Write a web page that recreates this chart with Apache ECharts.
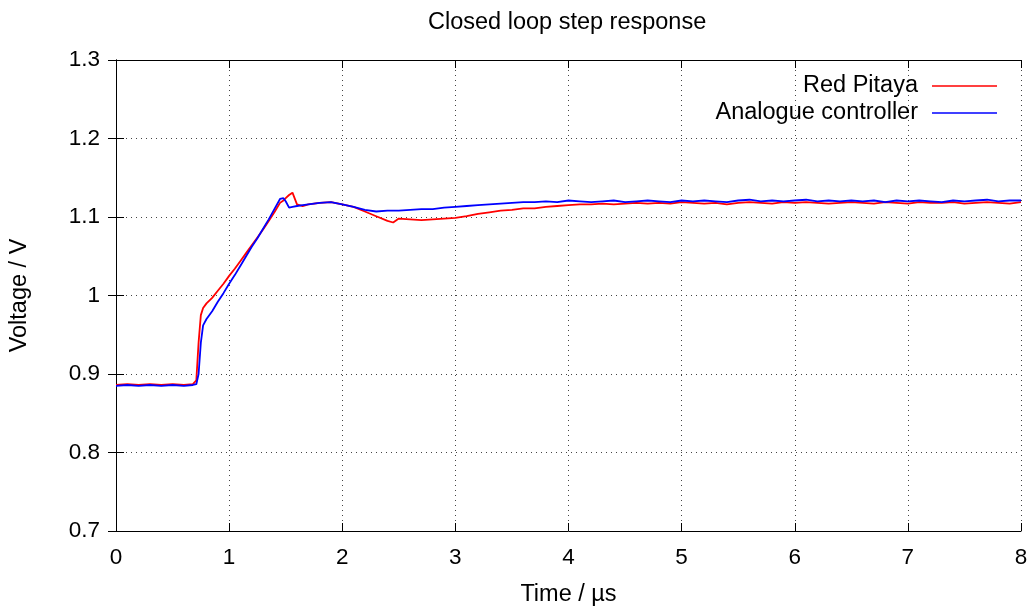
<!DOCTYPE html>
<html>
<head>
<meta charset="utf-8">
<script src="https://cdn.jsdelivr.net/npm/echarts@6/dist/echarts.min.js"></script>
<style>
    html, body { margin: 0; padding: 0; background: #fff; }
    #chart { width: 1032px; height: 612px; }
</style>
</head>
<body>
<div id="chart"></div>
<script>
    // time in microseconds
    const time = [
        0, 0.1, 0.2, 0.3, 0.4, 0.5, 0.6, 0.68,
        0.71, 0.73, 0.75, 0.77, 0.8, 0.85, 0.9, 0.95, 1.0, 1.05, 1.1, 1.15, 1.2, 1.25, 1.3, 1.35, 1.4, 1.45,
        1.48, 1.5, 1.53, 1.56, 1.6, 1.65, 1.7,
        1.8, 1.9, 2.0, 2.1, 2.2, 2.3, 2.4, 2.45, 2.5, 2.6, 2.7, 2.8, 2.9, 3.0,
        3.1, 3.2, 3.3, 3.4, 3.5, 3.6, 3.7, 3.8, 3.9, 4.0,
        4.1, 4.2, 4.3, 4.4, 4.5, 4.6, 4.7, 4.8, 4.9, 5.0,
        5.1, 5.2, 5.3, 5.4, 5.5, 5.6, 5.7, 5.8, 5.9, 6.0,
        6.1, 6.2, 6.3, 6.4, 6.5, 6.6, 6.7, 6.8, 6.9, 7.0,
        7.1, 7.2, 7.3, 7.4, 7.5, 7.6, 7.7, 7.8, 7.9, 8.0
    ];
    const redPitaya = [
        0.886, 0.887, 0.886, 0.887, 0.886, 0.887, 0.886, 0.887,
        0.892, 0.940, 0.975, 0.984, 0.990, 0.997, 1.006, 1.015, 1.025, 1.034, 1.044, 1.054, 1.064, 1.074, 1.084, 1.095, 1.106, 1.118,
        1.121, 1.124, 1.128, 1.131, 1.116, 1.114, 1.116,
        1.118, 1.119, 1.116, 1.113, 1.107, 1.101, 1.095, 1.093, 1.098, 1.097, 1.096, 1.097, 1.098, 1.099,
        1.101, 1.104, 1.106, 1.108, 1.109, 1.111, 1.111, 1.113, 1.114, 1.115,
        1.116, 1.116, 1.117, 1.116, 1.117, 1.118, 1.117, 1.118, 1.117, 1.119,
        1.118, 1.117, 1.118, 1.116, 1.118, 1.119, 1.118, 1.117, 1.119, 1.118,
        1.119, 1.118, 1.117, 1.118, 1.119, 1.118, 1.117, 1.119, 1.118, 1.117,
        1.119, 1.118, 1.118, 1.119, 1.117, 1.118, 1.119, 1.118, 1.117, 1.119
    ];
    const analogue = [
        0.885, 0.886, 0.885, 0.886, 0.885, 0.886, 0.885, 0.886,
        0.887, 0.900, 0.940, 0.962, 0.970, 0.980, 0.992, 1.003, 1.015, 1.026, 1.038, 1.050, 1.062, 1.073, 1.085, 1.097, 1.110, 1.123,
        1.124, 1.120, 1.112, 1.113, 1.114, 1.115, 1.116,
        1.118, 1.119, 1.116, 1.113, 1.109, 1.107, 1.108, 1.108, 1.108, 1.109, 1.110, 1.110, 1.112, 1.113,
        1.114, 1.115, 1.116, 1.117, 1.118, 1.119, 1.119, 1.120, 1.119, 1.121,
        1.120, 1.119, 1.120, 1.121, 1.119, 1.120, 1.121, 1.120, 1.119, 1.121,
        1.120, 1.121, 1.120, 1.119, 1.121, 1.122, 1.120, 1.121, 1.120, 1.121,
        1.122, 1.120, 1.121, 1.120, 1.121, 1.120, 1.121, 1.119, 1.121, 1.120,
        1.121, 1.120, 1.119, 1.121, 1.120, 1.121, 1.122, 1.120, 1.121, 1.121
    ];
    const seriesNames = ['Red Pitaya', 'Analogue controller'];

    const font = 'Liberation Sans, Arial, sans-serif';
    const fs = 23.5;
    const pair = (ys) => time.map((t, i) => [t, ys[i]]);

    const mirror = {
        axisLine: { show: true, lineStyle: { color: '#000', width: 1 } },
        axisTick: { show: true, inside: true, length: 8, lineStyle: { color: '#000' } },
        axisLabel: { show: false },
        splitLine: { show: false }
    };

    const chart = echarts.init(document.getElementById('chart'));
    chart.setOption({
        animation: false,
        backgroundColor: '#fff',
        title: {
            text: 'Closed loop step response',
            left: 423,
            top: 6,
            textStyle: { fontFamily: font, fontSize: fs, fontWeight: 'normal', color: '#000' }
        },
        legend: [
            {
                data: [seriesNames[0]], right: 30, top: 69, align: 'right',
                icon: 'rect', itemWidth: 65, itemHeight: 1.5,
                textStyle: { fontFamily: font, fontSize: fs, color: '#000', padding: [0, 9, 0, 0] }
            },
            {
                data: [seriesNames[1]], right: 30, top: 96, align: 'right',
                icon: 'rect', itemWidth: 65, itemHeight: 1.5,
                textStyle: { fontFamily: font, fontSize: fs, color: '#000', padding: [0, 9, 0, 0] }
            }
        ],
        grid: { left: 116, right: 11, top: 60, bottom: 79 },
        xAxis: [
            {
                type: 'value', min: 0, max: 8, interval: 1,
                name: 'Time / µs', nameLocation: 'middle', nameGap: 52,
                nameTextStyle: { fontFamily: font, fontSize: fs, color: '#000' },
                axisLine: { show: true, onZero: false, lineStyle: { color: '#000', width: 1 } },
                axisTick: { show: true, inside: true, length: 8, lineStyle: { color: '#000' } },
                axisLabel: { fontFamily: font, fontSize: 22.5, color: '#000', margin: 15 },
                splitLine: { show: true, lineStyle: { color: '#444', type: [1, 4], width: 1 } }
            },
            Object.assign({ type: 'value', min: 0, max: 8, interval: 1, position: 'top' }, mirror)
        ],
        yAxis: [
            {
                type: 'value', min: 0.7, max: 1.3, interval: 0.1,
                name: 'Voltage / V', nameLocation: 'middle', nameGap: 84, nameRotate: 90,
                nameTextStyle: { fontFamily: font, fontSize: fs, color: '#000' },
                axisLine: { show: true, onZero: false, lineStyle: { color: '#000', width: 1 } },
                axisTick: { show: true, inside: true, length: 8, lineStyle: { color: '#000' } },
                axisLabel: {
                    fontFamily: font, fontSize: 22.5, color: '#000', margin: 16,
                    formatter: v => String(+v.toFixed(1))
                },
                splitLine: { show: true, lineStyle: { color: '#444', type: [1, 4], width: 1 } }
            },
            Object.assign({ type: 'value', min: 0.7, max: 1.3, interval: 0.1, position: 'right' }, mirror)
        ],
        series: [
            {
                name: seriesNames[0], type: 'line', data: pair(redPitaya),
                showSymbol: false, symbol: 'none', color: '#ff0000',
                lineStyle: { width: 1.8, color: '#ff0000' }
            },
            {
                name: seriesNames[1], type: 'line', data: pair(analogue),
                showSymbol: false, symbol: 'none', color: '#0000ff',
                lineStyle: { width: 1.8, color: '#0000ff' }
            }
        ]
    });
</script>
</body>
</html>
